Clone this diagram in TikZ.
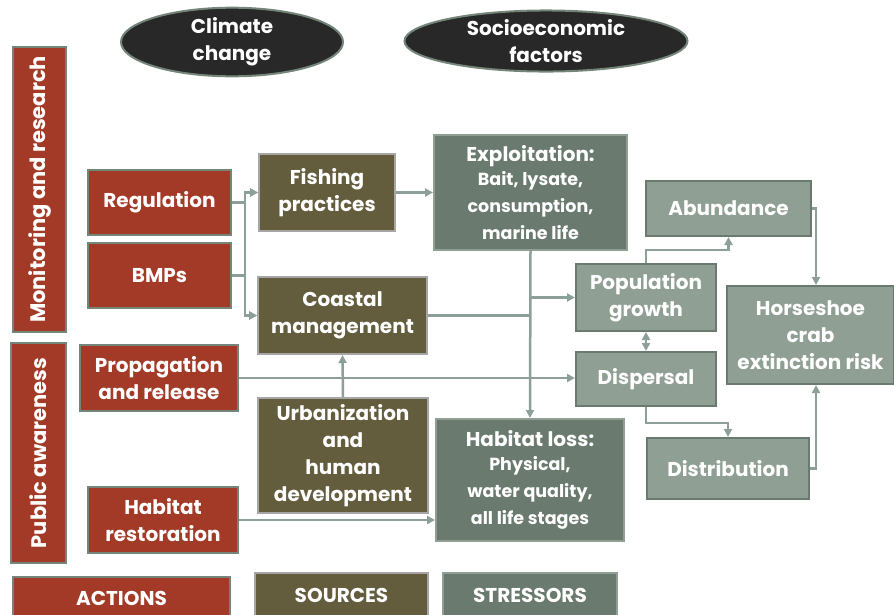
\documentclass[tikz,border=0pt]{standalone}
\usepackage{fontspec}
\setmainfont{Poppins}
\usetikzlibrary{shapes.geometric,arrows.meta}
\definecolor{actred}{HTML}{A33A27}
\definecolor{srcolive}{HTML}{635C3D}
\definecolor{strgrey}{HTML}{6A7A6F}
\definecolor{effgrey}{HTML}{8F9F93}
\definecolor{rimgrey}{HTML}{74857A}
\definecolor{flowgrey}{HTML}{8DA097}
\definecolor{ovaldark}{HTML}{282828}
\tikzset{
  box/.style={draw=rimgrey,line width=2pt,align=center,text=white,inner sep=2pt,
    font=\bfseries\fontsize{20}{27}\selectfont},
  action/.style={box,fill=actred},
  source/.style={box,fill=srcolive,draw=gray!70},
  stressor/.style={box,fill=strgrey,draw=effgrey},
  effect/.style={box,fill=effgrey,draw=strgrey},
  factor/.style={ellipse,draw=rimgrey,line width=2pt,fill=ovaldark,text=white,inner sep=0pt,
    align=center,font=\bfseries\fontsize{20}{27}\selectfont},
  sz/.style 2 args={minimum width=#1pt,minimum height=#2pt},
  bar/.style={action,rotate=90,font=\bfseries\fontsize{21}{27}\selectfont}
}
\newcommand{\subl}[1]{{\fontsize{17.5}{23.5}\selectfont #1}}
\begin{document}
\begin{tikzpicture}[x=1pt,y=-1pt]
      \useasboundingbox (0,0) rectangle (894,614);
      \path
        (232,42) node[factor,sz={222}{58}] (clim){Climate\\change}
        (546,41) node[factor,sz={283}{58}] (socio){Socioeconomic\\factors};
      \path
        (39.5,189.5) node[bar,sz={285}{53}] (monres){Monitoring and research}
        (38.5,453) node[bar,sz={220}{55}] (pubaw){Public awareness}
        (159.5,202.5) node[action,sz={143}{65}] (reg){Regulation}
        (159.5,275.5) node[action,sz={143}{65}] (bmp){BMPs}
        (159,378) node[action,sz={158}{66}] (prop){Propagation\\and release}
        (163,520) node[action,sz={150}{66}] (hrest){Habitat\\restoration}
        (121.5,598) node[action,sz={217}{42}] (actions){ACTIONS};
      \path
        (327,192.5) node[source,sz={136}{77}] (fish){Fishing\\practices}
        (342.5,315.5) node[source,sz={169}{77}] (coast){Coastal\\management}
        (343,455.5) node[source,sz={170}{115}] (urban){Urbanization\\and\\human\\development}
        (341.5,595) node[source,sz={173}{44}] (sources){SOURCES};
      \path
        (530.5,192.5) node[stressor,sz={193}{115}] (exploit){Exploitation:\\[-3pt]\subl{Bait, lysate,}\\\subl{consumption,}\\\subl{marine life}}
        (530,480) node[stressor,sz={188}{122}] (hloss){Habitat loss:\\[-3pt]\subl{Physical,}\\\subl{water quality,}\\\subl{all life stages}}
        (530,595) node[stressor,sz={174}{44}] (stressors){STRESSORS};
      \path
        (728.5,208.5) node[effect,sz={165}{55}] (abund){Abundance}
        (646,297.5) node[effect,sz={140}{67}] (pop){Population\\growth}
        (646,379) node[effect,sz={140}{54}] (disp){Dispersal}
        (810.5,335) node[effect,sz={167}{98}] (hs){Horseshoe\\crab\\extinction risk}
        (728,468.5) node[effect,sz={162}{61}] (distr){Distribution};
      \coordinate (busA) at (245,0);
      \begin{scope}[->,>={Triangle[length=8pt,width=8pt]},draw=flowgrey,line width=2.5pt]
        \draw (reg.east) -- (reg.east -| busA) |- (fish.west);
        \draw (reg.east) -- (reg.east -| busA) |- (coast.west);
        \draw (bmp.east) -- (bmp.east -| busA) |- (fish.west);
        \draw (bmp.east) -- (bmp.east -| busA) |- (coast.west);
        \draw (fish.east) -- (exploit.west);
        \draw (exploit.south) -- (hloss.north);
        \draw (exploit.south |- pop.west) -- (pop.west);
        \draw[-] (coast.east) -- (coast.east -| exploit.south);
        \draw (prop.east) -- (prop.east -| disp.west);
        \draw (urban.north) -- (coast.south);
        \draw (hrest.east) -- (hrest.east -| hloss.west);
        \draw (pop.north) -- ++(0,-13) -| (abund.south);
        \draw[<->] (pop.south) -- (disp.north);
        \draw (disp.south) -- ++(0,16) -| (distr.north);
        \draw (abund.east) -- ++(4,0) coordinate (ab) -- (ab |- hs.north);
        \draw (distr.east) -- ++(6,0) coordinate (di) -- (di |- hs.south);
      \end{scope}
    \end{tikzpicture}
\end{document}
